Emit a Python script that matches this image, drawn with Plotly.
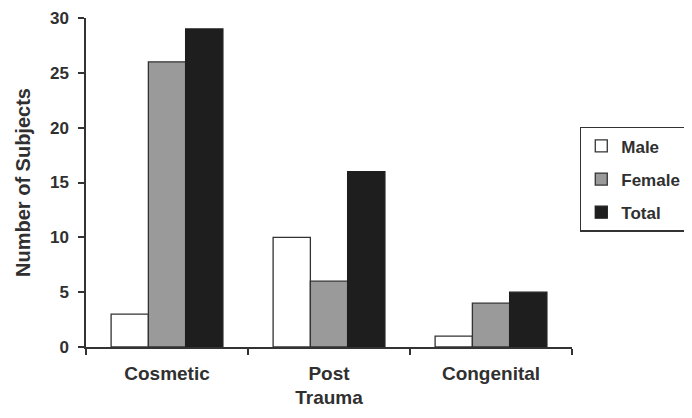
import plotly.graph_objects as go

categories = ["Cosmetic", "Post<br>Trauma", "Congenital"]
male = [3, 10, 1]
female = [26, 6, 4]
total = [29, 16, 5]
y_ticks = [0, 5, 10, 15, 20, 25, 30]

font_family = "Liberation Sans, Arial, sans-serif"
text_color = "#303030"
line_color = "#333333"

fig = go.Figure()
fig.add_trace(go.Bar(name="<b>Male</b>", x=categories, y=male, legendgroup="m",
                     marker=dict(color="#ffffff", line=dict(color=line_color, width=1.3))))
fig.add_trace(go.Bar(name="<b>Female</b>", x=categories, y=female, legendgroup="f",
                     marker=dict(color="#9a9a9a", line=dict(color=line_color, width=1.3))))
fig.add_trace(go.Bar(name="<b>Total</b>", x=categories, y=total, legendgroup="t",
                     marker=dict(color="#1e1e1e", line=dict(color="#1e1e1e", width=1.3))))

# page has an 8px body margin, so the figure is sized to fit the window
fig.update_layout(
    width=684, height=410,
    margin=dict(l=78, r=120, t=10, b=71, autoexpand=False),
    paper_bgcolor="white", plot_bgcolor="white",
    barmode="group", bargap=0.31, bargroupgap=0,
    font=dict(family=font_family, color=text_color, size=17),
    showlegend=True,
    legend=dict(x=1.016, y=0.669, xanchor="left", yanchor="top",
                bordercolor=line_color, borderwidth=1.5,
                font=dict(size=17, color=text_color, family=font_family),
                traceorder="grouped", tracegroupgap=8,
                itemclick=False),
)
fig.update_xaxes(
    automargin=False,
    showline=True, linecolor=line_color, linewidth=1.5,
    ticks="outside", tickson="boundaries", ticklen=6, tickcolor=line_color, tickwidth=1.5,
    tickfont=dict(size=19, family=font_family, color=text_color),
    ticklabelstandoff=8,
    tickvals=categories,
    ticktext=["<b>Cosmetic</b>", "<b>Post</b><br><b>Trauma</b>", "<b>Congenital</b>"],
    showgrid=False,
)
fig.update_yaxes(
    automargin=False,
    range=[0, 30], tickvals=y_ticks,
    ticktext=[f"<b>{v}</b>" for v in y_ticks],
    showline=True, linecolor=line_color, linewidth=1.5,
    ticks="outside", ticklen=6, tickcolor=line_color, tickwidth=1.5,
    tickfont=dict(size=17, family=font_family, color=text_color),
    ticklabelstandoff=6,
    title=dict(text="<b>Number of Subjects</b>", font=dict(size=20, family=font_family, color=text_color), standoff=14),
    showgrid=False, zeroline=False,
)

fig.write_html("out.html")
